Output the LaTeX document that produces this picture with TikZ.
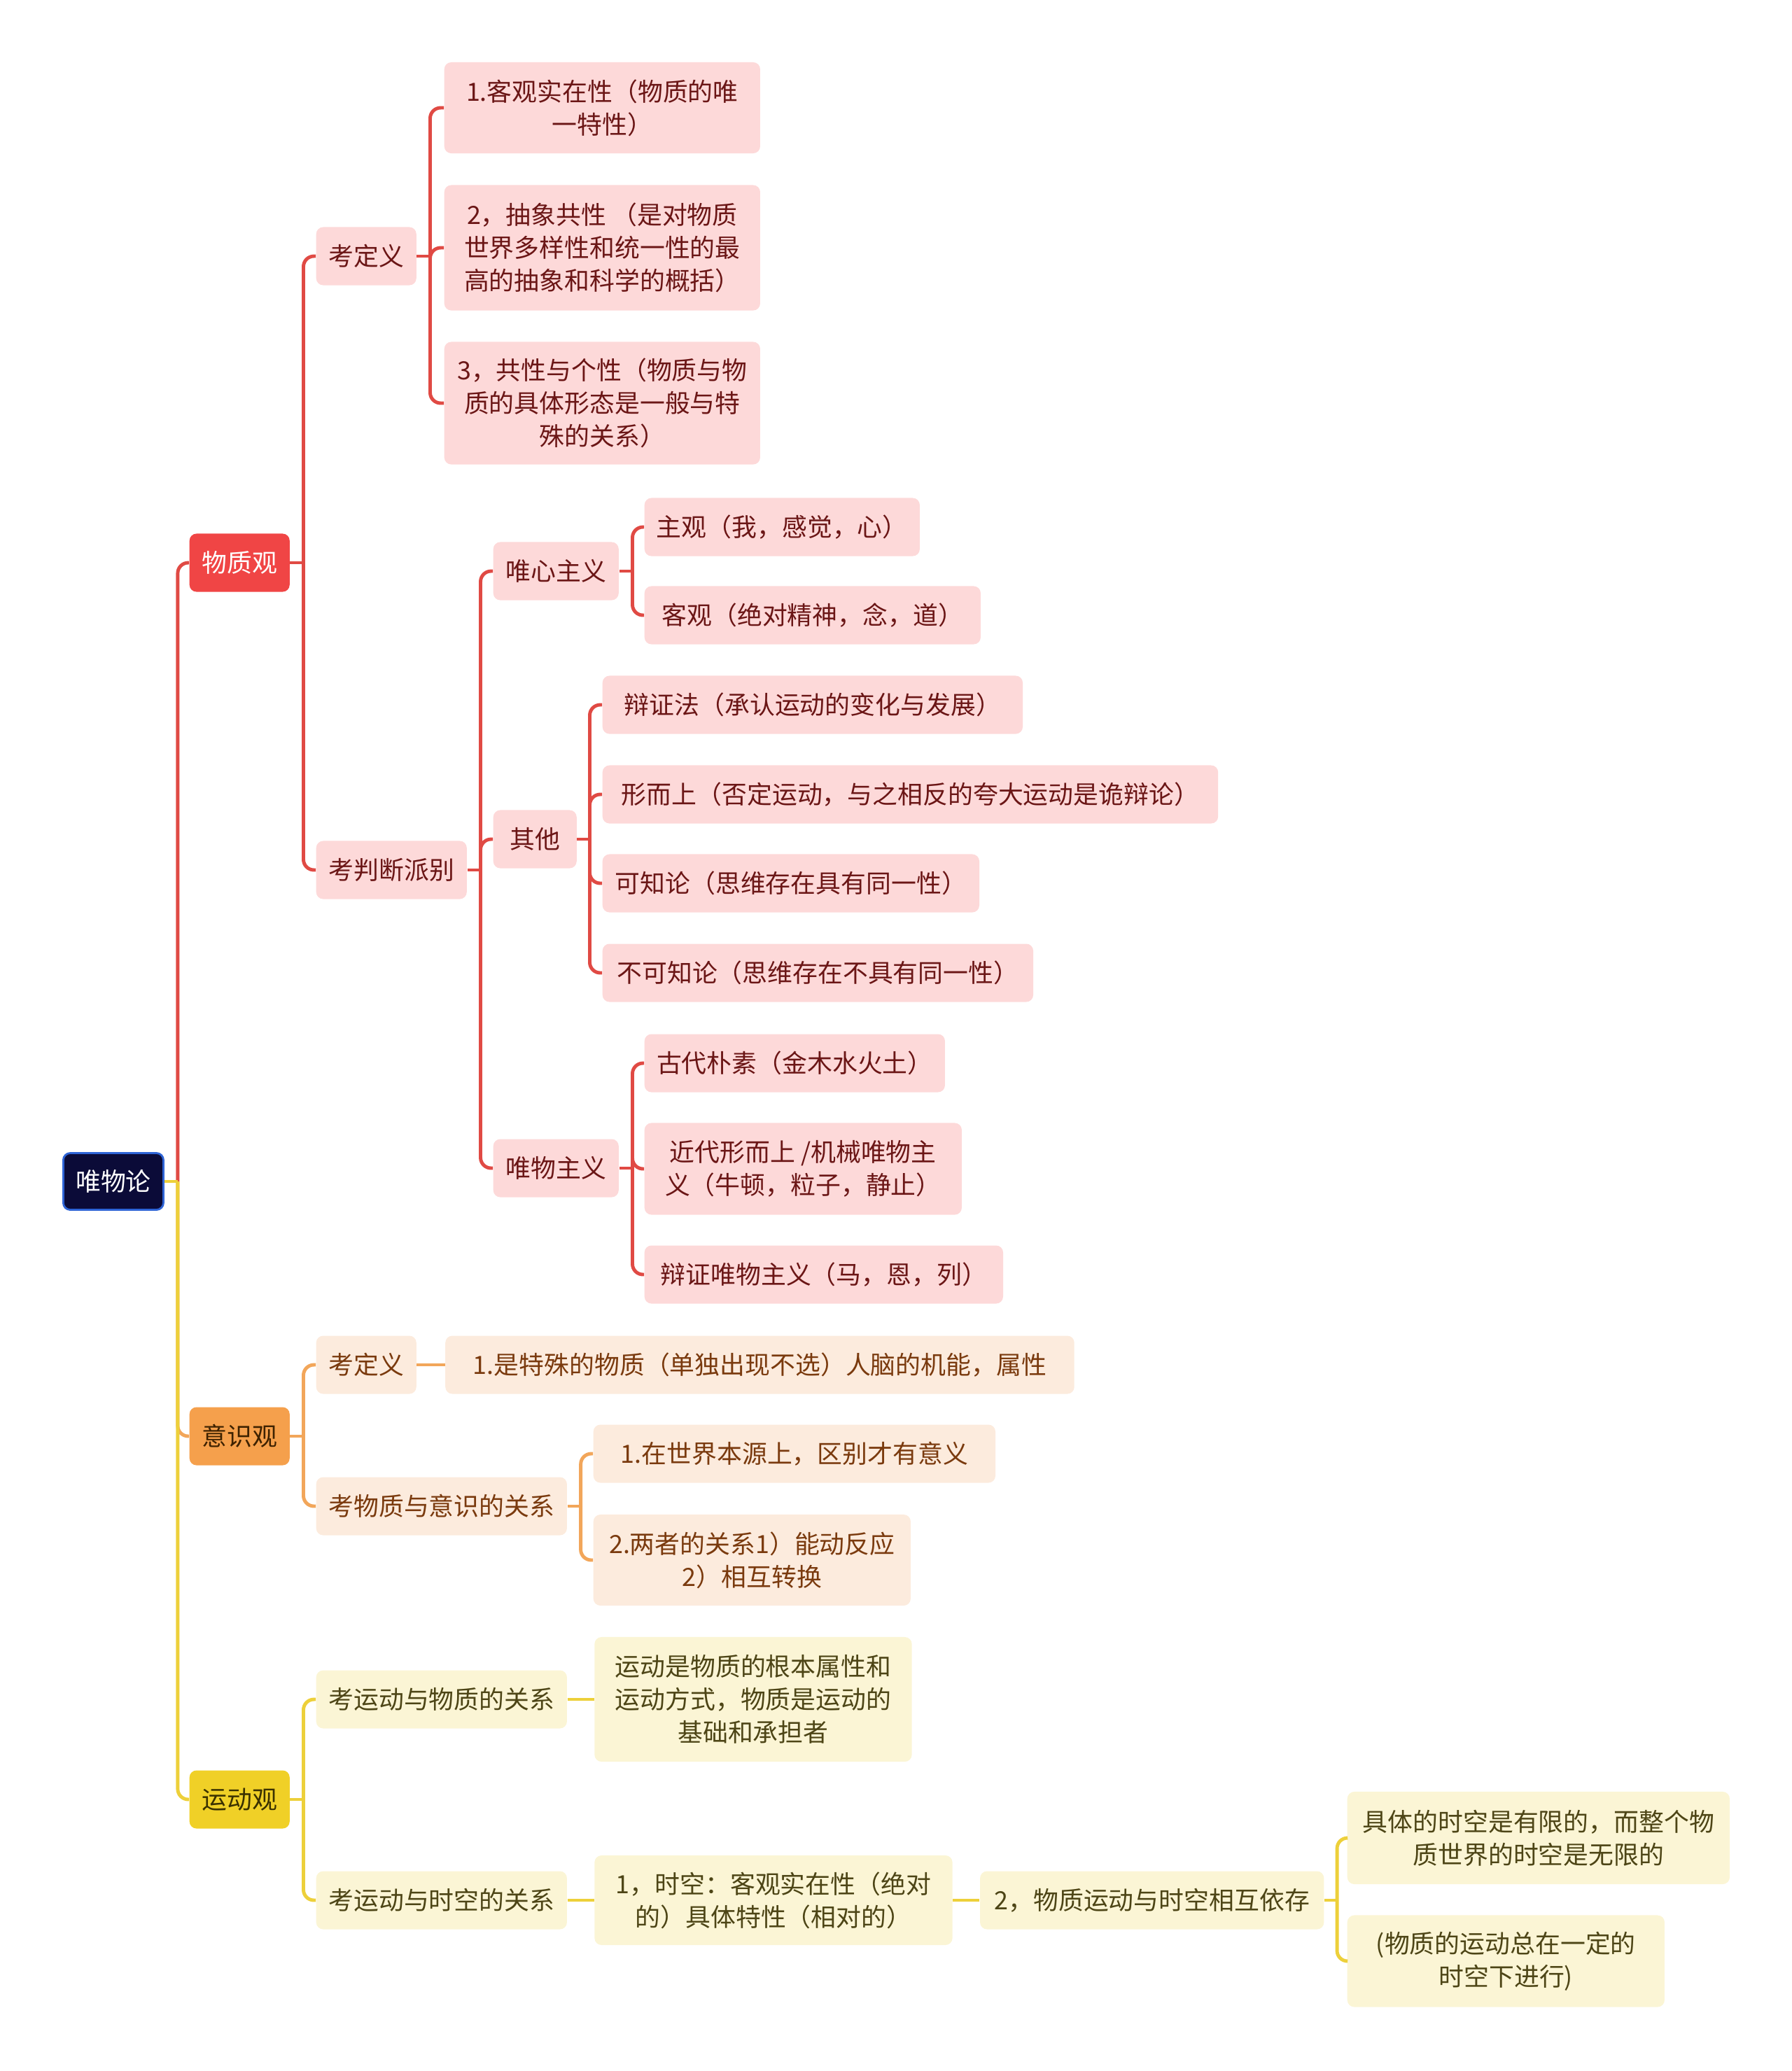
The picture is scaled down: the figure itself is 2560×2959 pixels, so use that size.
\documentclass[tikz,border=0pt]{standalone}
\usepackage{fontspec}
\setmainfont{Noto Sans CJK SC}
\usetikzlibrary{positioning}
\definecolor{rootfill}{HTML}{0B0B38}
\definecolor{rootedge}{HTML}{2E64D6}
\definecolor{matfill}{HTML}{F04545}
\definecolor{redlink}{HTML}{E04A44}
\definecolor{redsoft}{HTML}{FDD9D9}
\definecolor{redtext}{HTML}{6B1616}
\definecolor{confill}{HTML}{F5A04C}
\definecolor{context}{HTML}{3E2200}
\definecolor{orglink}{HTML}{F2A65A}
\definecolor{orgsoft}{HTML}{FCEBDD}
\definecolor{orgtext}{HTML}{7A3A0E}
\definecolor{movfill}{HTML}{F0D027}
\definecolor{movtext}{HTML}{3A3100}
\definecolor{ylwlink}{HTML}{EDD03A}
\definecolor{ylwsoft}{HTML}{FBF5D5}
\definecolor{ylwtext}{HTML}{4D4516}

\begin{document}
\begin{tikzpicture}[x=0.01cm,y=-0.01cm,
  every node/.style={font=\fontsize{10.2}{13.4}\selectfont,rounded corners=1mm,inner sep=1pt,align=center,anchor=west,minimum height=0.83cm},
  rootbox/.style={fill=rootfill,draw=rootedge,line width=0.8pt,text=white},
  matbox/.style={fill=matfill,text=white},
  conbox/.style={fill=confill,text=context},
  movbox/.style={fill=movfill,text=movtext},
  redbox/.style={fill=redsoft,text=redtext},
  orgbox/.style={fill=orgsoft,text=orgtext},
  ylwbox/.style={fill=ylwsoft,text=ylwtext},
  redline/.style={draw=redlink,line width=1.4pt},
  orgline/.style={draw=orglink,line width=1.4pt},
  ylwline/.style={draw=ylwlink,line width=1.4pt},
  elbow/.style={rounded corners=0.15cm}]
  \useasboundingbox (0,0) rectangle (2560,2959);

  % 根与三大观
  \node[rootbox,minimum width=1.43cm,minimum height=0.81cm] (root) at (89,1688) {唯物论};
  \node[matbox,minimum width=1.43cm] (wzg) at (270,804) {物质观};
  \node[conbox,minimum width=1.43cm] (ysg) at (270,2052) {意识观};
  \node[movbox,minimum width=1.43cm] (ydg) at (270,2571) {运动观};

  % 物质观
  \node[redbox,minimum width=1.43cm] (kdy) at (451,366) {考定义};
  \node[redbox,minimum width=2.15cm] (kpd) at (451,1243) {考判断派别};
  \node[redbox,minimum width=4.51cm,minimum height=1.30cm] (dy1) at (634,154) {1.客观实在性（物质的唯\\一特性）};
  \node[redbox,minimum width=4.51cm,minimum height=1.79cm] (dy2) at (634,354) {2，抽象共性 （是对物质\\世界多样性和统一性的最\\高的抽象和科学的概括）};
  \node[redbox,minimum width=4.51cm,minimum height=1.75cm] (dy3) at (634,576) {3，共性与个性（物质与物\\质的具体形态是一般与特\\殊的关系）};
  \node[redbox,minimum width=1.79cm] (wx) at (704,816) {唯心主义};
  \node[redbox,minimum width=1.19cm] (qt) at (704,1199) {其他};
  \node[redbox,minimum width=1.79cm] (ww) at (704,1669) {唯物主义};
  \node[redbox,minimum width=3.93cm] (wx1) at (920,753) {主观（我，感觉，心）};
  \node[redbox,minimum width=4.80cm] (wx2) at (920,879) {客观（绝对精神，念，道）};
  \node[redbox,minimum width=6.00cm] (qt1) at (860,1007) {辩证法（承认运动的变化与发展）};
  \node[redbox,minimum width=8.79cm] (qt2) at (860,1135) {形而上（否定运动，与之相反的夸大运动是诡辩论）};
  \node[redbox,minimum width=5.38cm] (qt3) at (860,1262) {可知论（思维存在具有同一性）};
  \node[redbox,minimum width=6.15cm] (qt4) at (860,1390) {不可知论（思维存在不具有同一性）};
  \node[redbox,minimum width=4.29cm] (ww1) at (920,1519) {古代朴素（金木水火土）};
  \node[redbox,minimum width=4.53cm,minimum height=1.31cm] (ww2) at (920,1670) {近代形而上 /机械唯物主\\义（牛顿，粒子，静止）};
  \node[redbox,minimum width=5.12cm] (ww3) at (920,1821) {辩证唯物主义（马，恩，列）};

  % 意识观
  \node[orgbox,minimum width=1.43cm] (ykd) at (451,1950) {考定义};
  \node[orgbox,minimum width=8.98cm,right=0.40cm of ykd] (ykd1) {1.是特殊的物质（单独出现不选）人脑的机能，属性};
  \node[orgbox,minimum width=3.58cm] (ygx) at (451,2152) {考物质与意识的关系};
  \node[orgbox,minimum width=5.74cm] (ygx1) at (847,2077) {1.在世界本源上，区别才有意义};
  \node[orgbox,minimum width=4.53cm,minimum height=1.30cm] (ygx2) at (847,2229) {2.两者的关系1）能动反应\\2）相互转换};

  % 运动观
  \node[ylwbox,minimum width=3.58cm] (dwz) at (451,2428) {考运动与物质的关系};
  \node[ylwbox,minimum width=4.53cm,minimum height=1.78cm,right=0.38cm of dwz] (dwz1) {运动是物质的根本属性和\\运动方式，物质是运动的\\基础和承担者};
  \node[ylwbox,minimum width=3.58cm] (dsk) at (451,2715) {考运动与时空的关系};
  \node[ylwbox,minimum width=5.11cm,minimum height=1.28cm,right=0.38cm of dsk] (dsk1) {1，时空：客观实在性（绝对\\的）具体特性（相对的）};
  \node[ylwbox,minimum width=4.91cm,right=0.38cm of dsk1] (dsk2) {2，物质运动与时空相互依存};
  \node[ylwbox,minimum width=5.46cm,minimum height=1.32cm] (dsk3) at (1924,2626) {具体的时空是有限的，而整个物\\质世界的时空是无限的};
  \node[ylwbox,minimum width=4.53cm,minimum height=1.31cm] (dsk4) at (1924,2802) {(物质的运动总在一定的\\时空下进行)};

  % 连线
  \draw[redline] (root.east) -- ++(19,0) coordinate (rs);
  \draw[redline,elbow] (rs) |- (wzg.west);
  \draw[orgline,elbow] (rs) |- (ysg.west);
  \draw[ylwline] (root.east) -- (rs);
  \draw[ylwline,elbow] (rs) |- (ydg.west);

  \draw[redline] (wzg.east) -- ++(19,0) coordinate (wzs);
  \foreach \c in {kdy,kpd} \draw[redline,elbow] (wzs) |- (\c.west);
  \draw[redline] (kdy.east) -- ++(19,0) coordinate (kdys);
  \foreach \c in {dy1,dy2,dy3} \draw[redline,elbow] (kdys) |- (\c.west);
  \draw[redline] (kpd.east) -- ++(19,0) coordinate (kpds);
  \foreach \c in {wx,qt,ww} \draw[redline,elbow] (kpds) |- (\c.west);
  \draw[redline] (wx.east) -- ++(19,0) coordinate (wxs);
  \foreach \c in {wx1,wx2} \draw[redline,elbow] (wxs) |- (\c.west);
  \draw[redline] (qt.east) -- ++(18,0) coordinate (qts);
  \foreach \c in {qt1,qt2,qt3,qt4} \draw[redline,elbow] (qts) |- (\c.west);
  \draw[redline] (ww.east) -- ++(19,0) coordinate (wws);
  \foreach \c in {ww1,ww2,ww3} \draw[redline,elbow] (wws) |- (\c.west);

  \draw[orgline] (ysg.east) -- ++(19,0) coordinate (yss);
  \foreach \c in {ykd,ygx} \draw[orgline,elbow] (yss) |- (\c.west);
  \draw[orgline] (ykd) -- (ykd1);
  \draw[orgline] (ygx.east) -- ++(19,0) coordinate (ygxs);
  \foreach \c in {ygx1,ygx2} \draw[orgline,elbow] (ygxs) |- (\c.west);

  \draw[ylwline] (ydg.east) -- ++(19,0) coordinate (yds);
  \foreach \c in {dwz,dsk} \draw[ylwline,elbow] (yds) |- (\c.west);
  \draw[ylwline] (dwz) -- (dwz1);
  \draw[ylwline] (dsk) -- (dsk1);
  \draw[ylwline] (dsk1) -- (dsk2);
  \draw[ylwline] (dsk2.east) -- ++(18,0) coordinate (dsks);
  \foreach \c in {dsk3,dsk4} \draw[ylwline,elbow] (dsks) |- (\c.west);
\end{tikzpicture}
\end{document}
